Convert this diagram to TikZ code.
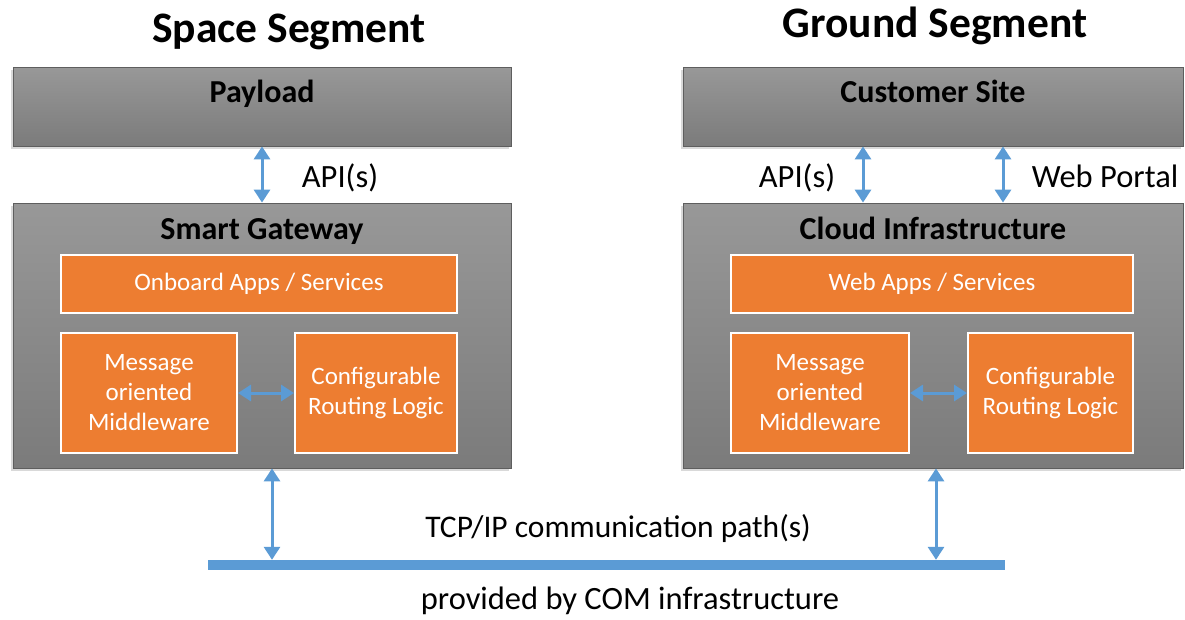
\documentclass[tikz,border=0pt]{standalone}
\usepackage{fontspec}
\setmainfont{Carlito}
\usetikzlibrary{arrows.meta,shadows}

\definecolor{boxtop}{HTML}{989898}
\definecolor{boxbot}{HTML}{7B7B7B}
\definecolor{boxedge}{HTML}{5E5E5E}
\definecolor{apporange}{HTML}{ED7D31}
\definecolor{linkblue}{HTML}{5B9BD5}

\begin{document}
\begin{tikzpicture}[x=1pt, y=-1pt,
  seg/.style={font=\fontsize{43.5}{50}\selectfont\bfseries, anchor=base, inner sep=0pt},
  block/.style={draw=boxedge, line width=0.8pt, top color=boxtop, bottom color=boxbot,
    drop shadow={shadow xshift=-2pt, shadow yshift=-3pt, opacity=0.3}},
  hdr/.style={font=\fontsize{32}{36}\selectfont\bfseries, anchor=base, inner sep=0pt},
  app/.style={draw=white, line width=2pt, fill=apporange, text=white, align=center,
    font=\fontsize{25}{30}\selectfont},
  lbl/.style={font=\fontsize{32.5}{36}\selectfont, anchor=base, inner sep=0pt},
  link/.style={linkblue, line width=3pt,
    {Triangle[width=16pt,length=13pt]}-{Triangle[width=16pt,length=13pt]}}]

\useasboundingbox (0,0) rectangle (1185,619);

% segment titles
\node[seg] (space) at (289,42) {Space Segment};
\node[seg] (ground) at (935,37) {Ground Segment};

% space side
\node[block, minimum width=498pt, minimum height=79pt] (payload) at (262,106.5) {};
\node[hdr] (paytitle) at ([yshift=-36pt]payload.north) {Payload};
\node[block, minimum width=498pt, minimum height=265pt] (gateway) at (262,335.5) {};
\node[hdr] (gwtitle) at ([yshift=-37pt]gateway.north) {Smart Gateway};
\node[app, minimum width=396pt, minimum height=58pt] (onboard) at (259,284) {Onboard Apps / Services};
\node[app, minimum width=176pt, minimum height=120pt] (momleft) at (149,393) {Message\\oriented\\Middleware};
\node[app, minimum width=162pt, minimum height=120pt] (routeleft) at (376,393) {Configurable\\Routing Logic};

% ground side
\node[block, minimum width=500pt, minimum height=79pt] (customer) at (933,106.5) {};
\node[hdr] (custtitle) at ([yshift=-36pt]customer.north) {Customer Site};
\node[block, minimum width=500pt, minimum height=265pt] (cloud) at (933,335.5) {};
\node[hdr] (cloudtitle) at ([yshift=-37pt]cloud.north) {Cloud Infrastructure};
\node[app, minimum width=402pt, minimum height=58pt] (webapps) at (932,284) {Web Apps / Services};
\node[app, minimum width=178pt, minimum height=120pt] (momright) at (820,393) {Message\\oriented\\Middleware};
\node[app, minimum width=165pt, minimum height=120pt] (routeright) at (1050.5,393) {Configurable\\Routing Logic};

% COM bus
\node[fill=linkblue, inner sep=0pt, minimum width=797pt, minimum height=10pt] (bus) at (606.5,565) {};

% connections
\draw[link] (payload.south) -- (gateway.north);
\draw[link] ([xshift=-70pt]customer.south) -- ([xshift=-70pt]cloud.north);
\draw[link] ([xshift=70pt]customer.south) -- ([xshift=70pt]cloud.north);
\draw[link] (momleft) -- (routeleft);
\draw[link] (momright) -- (routeright);
\draw[link] ([xshift=10pt]gateway.south) -- ([xshift=10pt]gateway.south |- bus.north);
\draw[link] ([xshift=3pt]cloud.south) -- ([xshift=3pt]cloud.south |- bus.north);

% labels
\node[lbl] (apispace) at (340,187) {API(s)};
\node[lbl] (apiground) at (797,187) {API(s)};
\node[lbl] (portal) at (1105,187) {Web Portal};
\node[lbl, font=\fontsize{31.5}{36}\selectfont] (tcp) at (618,537) {TCP/IP communication path(s)};
\node[lbl] (com) at (630,609) {provided by COM infrastructure};

\end{tikzpicture}
\end{document}
